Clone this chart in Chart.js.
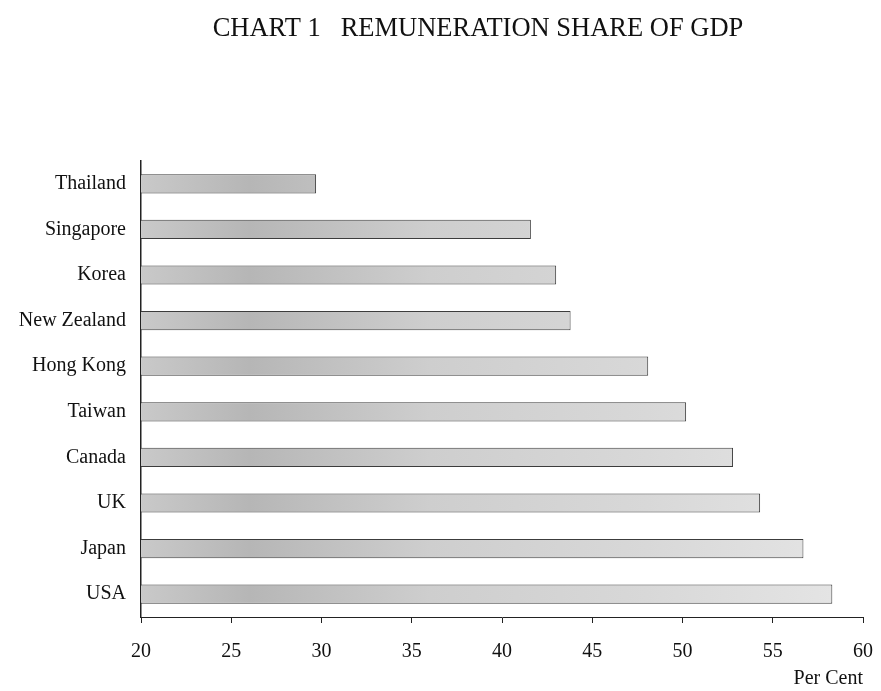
<!DOCTYPE html>
<html>
<head>
<meta charset="utf-8">
<script src="https://cdn.jsdelivr.net/npm/chart.js@4"></script>
<style>
  html, body { margin: 0; padding: 0; background: #fff; }
  #wrap { width: 881px; height: 691px; }
</style>
</head>
<body>
<div id="wrap"><canvas id="shareChart" width="881" height="691"></canvas></div>
<script>
// countries, top to bottom
const countries = ['Thailand', 'Singapore', 'Korea', 'New Zealand', 'Hong Kong', 'Taiwan', 'Canada', 'UK', 'Japan', 'USA'];
// remuneration share of GDP, per cent
const shares = [29.7, 41.6, 43.0, 43.8, 48.1, 50.2, 52.8, 54.3, 56.7, 58.3];
const axisMin = 20;
const axisMax = 60;
const axisStep = 5;
const chartTitle = 'CHART 1   REMUNERATION SHARE OF GDP';

const serif = 'Liberation Serif, Times New Roman, serif';

// grey shading across the bars, darker on the left, lighter to the right
function barFill(context) {
  const area = context.chart.chartArea;
  if (!area) return '#cccccc';
  const g = context.chart.ctx.createLinearGradient(area.left, 0, area.right, 0);
  g.addColorStop(0, '#c9c9c9');
  g.addColorStop(0.15, '#b6b6b6');
  g.addColorStop(0.4, '#cecece');
  g.addColorStop(0.7, '#d8d8d8');
  g.addColorStop(1, '#e6e6e6');
  return g;
}

// title sits a bit right of the canvas centre in the original
const titlePlugin = {
  id: 'pageTitle',
  afterDraw(chart) {
    const ctx = chart.ctx;
    ctx.save();
    ctx.font = '26.5px ' + serif;
    ctx.fillStyle = '#111';
    ctx.textAlign = 'center';
    ctx.textBaseline = 'middle';
    ctx.fillText(chartTitle, 478, 29);
    ctx.restore();
  }
};

const shareChart = new Chart(document.getElementById('shareChart').getContext('2d'), {
  type: 'bar',
  data: {
    labels: countries,
    datasets: [{
      data: shares,
      backgroundColor: barFill,
      borderColor: '#3c3c3c',
      borderWidth: 1,
      borderSkipped: false,
      barPercentage: 0.42,
      categoryPercentage: 1
    }]
  },
  plugins: [titlePlugin],
  options: {
    indexAxis: 'y',
    responsive: false,
    animation: false,
    layout: { padding: { left: 0, right: 18, top: 161, bottom: 0 } },
    plugins: {
      legend: { display: false },
      tooltip: { enabled: false },
      title: { display: false }
    },
    scales: {
      x: {
        type: 'linear',
        min: axisMin,
        max: axisMax,
        afterFit: (scale) => {
          scale.height = 74;
          scale.paddingRight = 0;
          scale.paddingLeft = 0;
        },
        ticks: {
          stepSize: axisStep,
          color: '#111',
          padding: 17,
          maxRotation: 0,
          font: { family: serif, size: 20 }
        },
        grid: {
          drawOnChartArea: false,
          drawTicks: true,
          tickLength: 6,
          color: '#222'
        },
        border: { display: true, color: '#222', width: 1 },
        title: {
          display: true,
          text: 'Per Cent',
          align: 'end',
          color: '#111',
          padding: { top: 2, bottom: 0 },
          font: { family: serif, size: 20 }
        }
      },
      y: {
        z: 1,
        afterFit: (scale) => { scale.width = 141; },
        ticks: {
          color: '#111',
          padding: 15,
          font: { family: serif, size: 20 }
        },
        grid: { display: false, drawTicks: false },
        border: { display: true, color: '#222', width: 1.5 }
      }
    }
  }
});
</script>
</body>
</html>
